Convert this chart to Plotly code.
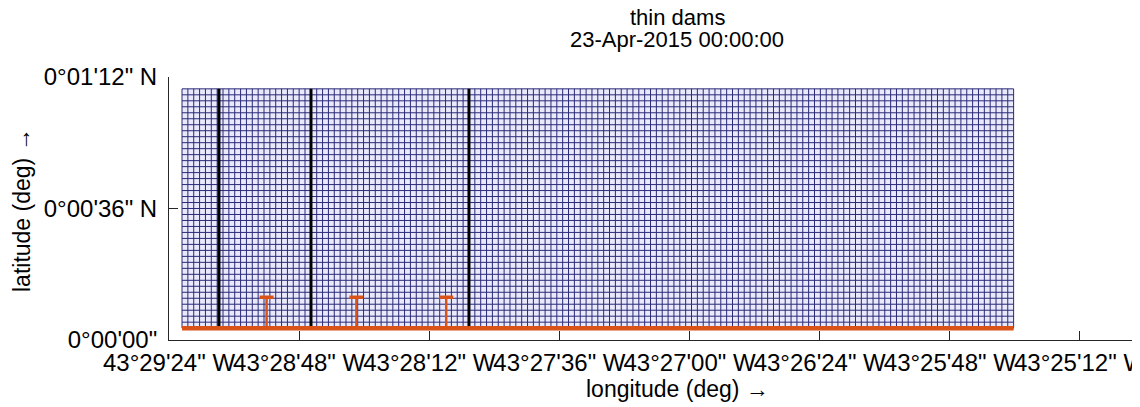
import numpy as np
import plotly.graph_objects as go

# ---- data (degrees) ----
x_tick_vals = [-43.49, -43.48, -43.47, -43.46, -43.45, -43.44, -43.43, -43.42]
x_tick_text = ['43°29\'24" W', '43°28\'48" W', '43°28\'12" W', '43°27\'36" W',
               '43°27\'00" W', '43°26\'24" W', '43°25\'48" W', '43°25\'12" W']
y_tick_vals = [0.0, 0.01, 0.02]
y_tick_text = ['0°00\'00"', '0°00\'36" N', '0°01\'12" N']

grid_lon_range = [-43.489, -43.4251]
grid_lat_range = [0.0009, 0.0191]
grid_n_cols = 142
grid_n_rows = 40

dam_lons = [-43.48616, -43.47909, -43.46695]
dam_lat_range = [0.0009, 0.0191]

boundary_lons = [-43.489, -43.4251]
boundary_lat = [0.0009, 0.0009]

stem_lons = [-43.4825, -43.4756, -43.4687]
stem_lat_bottom = 0.0009
stem_lat_top = 0.00325

title_lines = ["thin dams", "23-Apr-2015 00:00:00"]
x_label = "longitude (deg) \u2192"
y_label = "latitude (deg) \u2192"

# ---- figure ----
FONT = "Liberation Sans, Arial, sans-serif"
RED = "#D95319"
NAVY = "#2a2a78"
FACE = "#e9e9fb"

fig = go.Figure()

# grid cell face
fig.add_trace(go.Scatter(
    x=[grid_lon_range[0], grid_lon_range[1], grid_lon_range[1], grid_lon_range[0], grid_lon_range[0]],
    y=[grid_lat_range[0], grid_lat_range[0], grid_lat_range[1], grid_lat_range[1], grid_lat_range[0]],
    mode="lines", fill="toself", fillcolor=FACE, line=dict(width=0), hoverinfo="skip"))

# grid lines (regular mesh)
lon_edges = np.linspace(grid_lon_range[0], grid_lon_range[1], grid_n_cols + 1)
lat_edges = np.linspace(grid_lat_range[0], grid_lat_range[1], grid_n_rows + 1)
gx, gy = [], []
for lo in lon_edges:
    gx += [lo, lo, None]
    gy += [grid_lat_range[0], grid_lat_range[1], None]
for la in lat_edges:
    gx += [grid_lon_range[0], grid_lon_range[1], None]
    gy += [la, la, None]
fig.add_trace(go.Scatter(x=gx, y=gy, mode="lines",
                         line=dict(color=NAVY, width=1.0), hoverinfo="skip"))

# thin dams
dx, dy = [], []
for lo in dam_lons:
    dx += [lo, lo, None]
    dy += [dam_lat_range[0], dam_lat_range[1], None]
fig.add_trace(go.Scatter(x=dx, y=dy, mode="lines",
                         line=dict(color="black", width=3), hoverinfo="skip"))

# red stems
sx, sy = [], []
for lo in stem_lons:
    sx += [lo, lo, None]
    sy += [stem_lat_bottom, stem_lat_top, None]
fig.add_trace(go.Scatter(x=sx, y=sy, mode="lines",
                         line=dict(color=RED, width=2.5), hoverinfo="skip"))
fig.add_trace(go.Scatter(x=stem_lons, y=[stem_lat_top] * len(stem_lons), mode="markers",
                         marker=dict(symbol="line-ew", size=10,
                                     line=dict(color=RED, width=3.5)),
                         hoverinfo="skip"))

# red boundary
fig.add_trace(go.Scatter(x=boundary_lons, y=boundary_lat, mode="lines",
                         line=dict(color=RED, width=4.5), hoverinfo="skip"))

# Page body has an 8px margin: work in screen pixels, then offset.
OFF = 8
SCR_W, SCR_H = 1140, 407
AX_L, AX_R, AX_T, AX_B = 169, 1140, 77, 340   # axes box in screen pixels
W, H = SCR_W - OFF, SCR_H - OFF
L, R, T, B = AX_L - OFF, SCR_W - AX_R, AX_T - OFF, SCR_H - AX_B
px_per_deg_x = 13014.0
x_range = [x_tick_vals[0], x_tick_vals[0] + (AX_R - AX_L) / px_per_deg_x]

def py(p):  # screen pixel row -> paper y
    return (AX_B - p) / (AX_B - AX_T)

def px(p):  # screen pixel column -> paper x
    return (p - AX_L) / (AX_R - AX_L)

fig.update_layout(
    width=W, height=H,
    margin=dict(l=L, r=R, t=T, b=B, autoexpand=False),
    paper_bgcolor="white", plot_bgcolor="white",
    showlegend=False,
    font=dict(family=FONT, size=23, color="black"),
    xaxis=dict(range=x_range, tickvals=x_tick_vals, ticktext=x_tick_text, tickangle=0,
               showgrid=False, zeroline=False, showline=True, linecolor="#262626",
               linewidth=1, mirror=False, ticks="inside", ticklen=9, tickcolor="#262626",
               tickfont=dict(family=FONT, size=24, color="black"),
               ticklabeloverflow="allow", ticklabelstandoff=1),
    yaxis=dict(range=[0, 0.02], tickvals=y_tick_vals, ticktext=y_tick_text,
               showgrid=False, zeroline=False, showline=True, linecolor="#262626",
               linewidth=1, mirror=False, ticks="inside", ticklen=9, tickcolor="#262626",
               tickfont=dict(family=FONT, size=24, color="black"),
               ticklabeloverflow="allow", ticklabelstandoff=6),
    annotations=[
        dict(text=title_lines[0], x=px(677), y=py(18), xref="paper", yref="paper",
             xanchor="center", yanchor="middle", showarrow=False, font=dict(size=22)),
        dict(text=title_lines[1], x=px(677), y=py(39), xref="paper", yref="paper",
             xanchor="center", yanchor="middle", showarrow=False, font=dict(size=22)),
        dict(text=x_label, x=px(677), y=py(389), xref="paper", yref="paper",
             xanchor="center", yanchor="middle", showarrow=False, font=dict(size=23)),
        dict(text=y_label, x=px(22), y=py(210), xref="paper", yref="paper",
             xanchor="center", yanchor="middle", showarrow=False, textangle=-90,
             font=dict(size=23)),
    ],
)

fig.write_html("out.html")
